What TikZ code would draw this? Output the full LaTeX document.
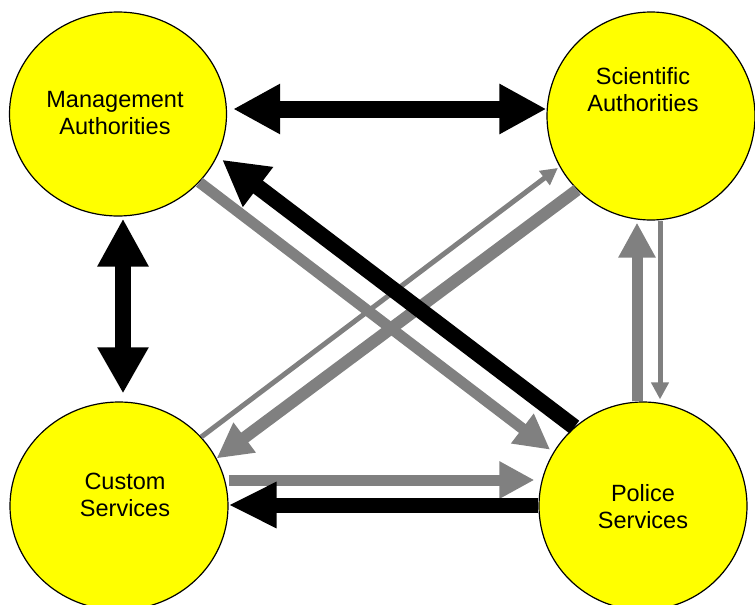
\documentclass[tikz,border=0pt]{standalone}
\usepackage{fontspec}
\setmainfont{Liberation Sans}
\usetikzlibrary{arrows.meta, shapes.geometric, positioning}
\definecolor{flowgray}{RGB}{128,128,128}
\definecolor{placefill}{RGB}{255,255,0}
\tikzset{x=1pt, y=-1pt,
	place/.style={ellipse, draw, line width=1.2pt, fill=placefill, inner sep=0pt},
	txt/.style={font=\fontsize{23.5}{27}\selectfont, align=center},
	heavy/.style={black, line width=17pt},
	broad/.style={flowgray, line width=11pt, -{Triangle[length=35pt,width=35pt]}},
	thin/.style={flowgray, line width=5pt, -{Triangle[length=17pt,width=17pt]}}}

\begin{document}
\begin{tikzpicture}
	\useasboundingbox (0,0) rectangle (755,605);
	% the four agencies
	\node[place, minimum width=217pt, minimum height=204pt] (ma) at (118,114) {};
	\node[place, minimum width=208pt, minimum height=208pt] (sa) at (651,116) {};
	\node[place, minimum width=218pt, minimum height=208pt] (cs) at (119,506) {};
	\node[place, minimum width=208pt, minimum height=208pt] (ps) at (643,506) {};
	\node[txt] (ma-txt) at (115,113) {Management\\Authorities};
	\node[txt] (sa-txt) at (643,90) {Scientific\\Authorities};
	\node[txt] (cs-txt) at (125,495) {Custom\\Services};
	\node[txt] (ps-txt) at (643,507) {Police\\Services};
	% grey flows
	\draw (ma.-40) edge[broad, shorten >=4pt] (ps.149)
		(sa.225) edge[broad, line width=12pt] (cs.26)
		(cs.40) edge[thin, shorten >=2pt] (sa.209)
		([yshift=26pt]cs.east) edge[broad, shorten >=4pt] ([yshift=26pt]cs.east -| ps.west)
		([xshift=-6pt]ps.north) edge[broad, shorten >=2pt] ([xshift=-6pt]ps.north |- sa.south)
		([xshift=9pt]sa.south) edge[thin, shorten >=2pt] ([xshift=9pt]sa.south |- ps.north);
	% black flows
	\draw (ps.131) edge[heavy, line width=16pt, -{Triangle[length=45pt,width=47pt]}, shorten >=6pt] (ma.-23)
		([yshift=1pt]ps.west) edge[heavy, line width=15pt, -{Triangle[length=48pt,width=43pt]}] ([yshift=1pt]ps.west -| cs.east)
		([yshift=5pt]ma.east) edge[heavy, {Triangle[length=47pt,width=47pt]}-{Triangle[length=47pt,width=47pt]}, shorten <=6pt] ([yshift=5pt]ma.east -| sa.west)
		([xshift=5pt]ma.south) edge[heavy, line width=16pt, {Triangle[length=48pt,width=48pt]}-{Triangle[length=46pt,width=48pt]}, shorten <=2pt, shorten >=8pt] ([xshift=5pt]ma.south |- cs.north);
\end{tikzpicture}
\end{document}
